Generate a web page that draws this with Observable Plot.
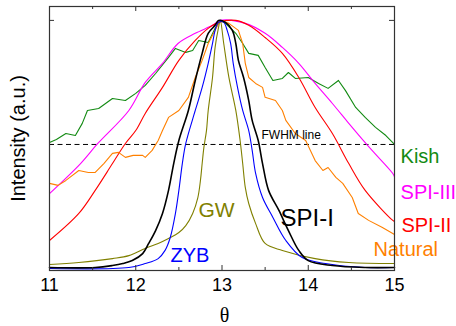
<!DOCTYPE html>
<html>
<head>
<meta charset="utf-8">
<script src="https://cdn.jsdelivr.net/npm/d3@7"></script>
<script src="https://cdn.jsdelivr.net/npm/@observablehq/plot@0.6"></script>
<style>
  html, body { margin: 0; padding: 0; background: white; }
</style>
</head>
<body>
<div id="chart"></div>
<script>
// ---- data: [theta, normalized intensity] ----
const kish = [[11.0,0.508],[11.08,0.520],[11.19,0.544],[11.30,0.536],[11.38,0.585],[11.44,0.637],[11.57,0.645],[11.73,0.685],[11.88,0.677],[12.0,0.706],[12.11,0.738],[12.23,0.786],[12.38,0.851],[12.46,0.887],[12.58,0.871],[12.66,0.879],[12.73,0.919],[12.84,0.911],[12.92,0.968],[12.98,1.0],[13.04,0.988],[13.16,0.948],[13.24,0.907],[13.31,0.867],[13.42,0.859],[13.50,0.810],[13.59,0.758],[13.70,0.766],[13.77,0.790],[13.85,0.766],[14.0,0.770],[14.12,0.746],[14.23,0.726],[14.35,0.758],[14.43,0.718],[14.55,0.649],[14.66,0.609],[14.78,0.569],[14.90,0.536],[15.0,0.50]];
const spi3 = [[11.0,0.302],[11.36,0.423],[11.56,0.504],[11.92,0.637],[12.11,0.75],[12.31,0.827],[12.49,0.907],[12.69,0.948],[12.89,0.98],[12.98,1.0],[13.27,0.988],[13.50,0.948],[13.70,0.891],[13.89,0.827],[14.08,0.746],[14.28,0.665],[14.47,0.585],[14.58,0.540],[14.74,0.476],[14.98,0.383],[15.0,0.370]];
const spi2 = [[11.0,0.113],[11.34,0.222],[11.53,0.315],[11.73,0.423],[11.88,0.504],[12.0,0.556],[12.11,0.625],[12.31,0.730],[12.50,0.839],[12.69,0.919],[12.84,0.968],[12.96,0.992],[13.16,1.0],[13.31,0.980],[13.50,0.931],[13.70,0.867],[13.89,0.770],[14.08,0.649],[14.28,0.544],[14.47,0.423],[14.66,0.315],[14.98,0.194],[15.0,0.19]];
const natural = [[11.0,0.343],[11.10,0.335],[11.19,0.355],[11.34,0.395],[11.45,0.387],[11.53,0.387],[11.63,0.423],[11.73,0.464],[11.80,0.468],[11.88,0.448],[11.97,0.456],[12.08,0.456],[12.11,0.448],[12.19,0.476],[12.26,0.516],[12.31,0.556],[12.38,0.609],[12.50,0.637],[12.61,0.690],[12.69,0.770],[12.77,0.839],[12.84,0.907],[12.92,0.960],[12.98,1.0],[13.08,0.988],[13.19,0.960],[13.24,0.907],[13.27,0.827],[13.31,0.770],[13.39,0.746],[13.47,0.730],[13.50,0.690],[13.62,0.677],[13.70,0.637],[13.74,0.597],[13.85,0.544],[13.97,0.516],[14.08,0.435],[14.17,0.395],[14.23,0.407],[14.32,0.367],[14.40,0.343],[14.51,0.286],[14.58,0.222],[14.70,0.194],[14.86,0.165],[15.0,0.137]];
const gw = [[11.0,0.016],[11.34,0.024],[11.73,0.040],[11.92,0.052],[12.11,0.081],[12.26,0.101],[12.38,0.121],[12.50,0.145],[12.58,0.173],[12.66,0.222],[12.72,0.286],[12.75,0.355],[12.77,0.423],[12.79,0.488],[12.82,0.556],[12.84,0.637],[12.89,0.770],[12.92,0.891],[12.96,0.972],[12.98,1.0],[13.02,0.907],[13.08,0.770],[13.16,0.637],[13.21,0.516],[13.24,0.423],[13.27,0.327],[13.31,0.262],[13.39,0.181],[13.50,0.101],[13.70,0.073],[14.08,0.040],[14.47,0.024],[15.0,0.020]];
const zyb = [[11.0,0.0],[11.92,0.004],[12.11,0.020],[12.26,0.040],[12.34,0.073],[12.40,0.125],[12.46,0.222],[12.50,0.315],[12.54,0.423],[12.58,0.504],[12.69,0.637],[12.77,0.730],[12.84,0.827],[12.89,0.907],[12.92,0.960],[12.96,0.992],[13.02,0.992],[13.06,0.960],[13.10,0.907],[13.13,0.827],[13.18,0.730],[13.24,0.637],[13.31,0.556],[13.35,0.476],[13.39,0.383],[13.47,0.286],[13.59,0.206],[13.74,0.113],[13.93,0.044],[14.20,0.020],[14.66,0.004],[15.0,0.004]];
const spi1 = [[11.0,0.004],[11.53,0.004],[11.73,0.012],[11.85,0.020],[11.96,0.032],[12.08,0.060],[12.15,0.101],[12.23,0.153],[12.31,0.222],[12.38,0.315],[12.44,0.423],[12.50,0.516],[12.61,0.637],[12.69,0.758],[12.77,0.867],[12.84,0.948],[12.92,0.980],[12.96,1.0],[13.04,0.992],[13.12,0.960],[13.16,0.907],[13.19,0.839],[13.25,0.770],[13.31,0.677],[13.35,0.597],[13.42,0.516],[13.47,0.423],[13.54,0.315],[13.66,0.234],[13.77,0.153],[13.89,0.073],[14.0,0.032],[14.28,0.012],[14.66,0.004],[15.0,0.004]];

const seriesNames = ["Kish","SPI-III","SPI-II","Natural","GW","ZYB","SPI-I"];
const seriesColors = ["#128a12","#ff00ff","#ff0000","#ff8000","#808000","#0000ff","#000000"];
const seriesData = [kish, spi3, spi2, natural, gw, zyb, spi1];
const seriesCurve = ["linear","catmull-rom","catmull-rom","linear","catmull-rom","catmull-rom","catmull-rom"];

// label annotations (theta, intensity of baseline)
const labelX = [15.07, 15.07, 15.08, 14.757, 12.728, 12.403, 13.678];
const labelY = [0.427, 0.282, 0.149, 0.052, 0.206, 0.028, 0.173];
const labelSize = [20, 20, 20, 20, 21, 20, 24];

const xTicks = [11, 12, 13, 14, 15];
const xMinorTicks = [11.5, 12.5, 13.5, 14.5];
const fwhmLevel = 0.5;

const W = 456, H = 326, mT = 6, mB = 56, mL = 49, mR = 62;
const fw = W - mL - mR, fh = H - mT - mB;

const lineMarks = seriesData.map((d, i) =>
  Plot.line(d, {x: p => p[0], y: p => p[1], stroke: seriesColors[i], curve: seriesCurve[i],
    strokeWidth: i === 6 ? 1.6 : 1.1})
);

const labels = seriesNames.map((n, i) => ({name: n, x: labelX[i], y: labelY[i], color: seriesColors[i], size: labelSize[i]}));

const chart = Plot.plot({
  width: W, height: H,
  marginTop: mT, marginBottom: mB, marginLeft: mL, marginRight: mR,
  x: {domain: [11, 15], axis: null},
  y: {domain: [-0.008, 1.056], axis: null},
  color: {type: "identity"},
  style: {fontFamily: "'Liberation Sans', Arial, sans-serif", background: "white", color: "black"},
  marks: [
    Plot.ruleY([fwhmLevel], {stroke: "black", strokeWidth: 1, strokeDasharray: "5,3.5"}),
    ...lineMarks,
    Plot.text(["FWHM line"], {x: 13.458, y: 0.520, textAnchor: "start", lineAnchor: "bottom", fontSize: 12, fill: "black"}),
    Plot.text(labels, {x: "x", y: "y", text: "name", fill: "color", fontSize: "size", textAnchor: "start", lineAnchor: "bottom"}),
    Plot.frame({stroke: "#333", strokeWidth: 1.2}),
    Plot.tickX(xTicks, {x: d => d, insetTop: fh - 5, stroke: "#333"}),
    Plot.tickX(xTicks, {x: d => d, insetBottom: fh - 5, stroke: "#333"}),
    Plot.tickX(xMinorTicks, {x: d => d, insetTop: fh - 3, stroke: "#333"}),
    Plot.tickX(xMinorTicks, {x: d => d, insetBottom: fh - 3, stroke: "#333"}),
    Plot.tickY([1], {y: d => d, insetRight: fw - 5, stroke: "#333"}),
    Plot.tickY([1], {y: d => d, insetLeft: fw - 5, stroke: "#333"}),
    Plot.axisX({ticks: xTicks, tickSize: 0, tickPadding: 8, fontSize: 18, label: null, tickFormat: d => String(d)}),
    Plot.text(["θ"], {frameAnchor: "bottom", dx: 2.5, dy: 51, textAnchor: "middle", lineAnchor: "bottom", fontFamily: "'Liberation Serif', 'DejaVu Serif', serif", fontSize: 20, fill: "black"}),
    Plot.text(["Intensity (a.u.)"], {frameAnchor: "left", dx: -31, rotate: -90, textAnchor: "middle", lineAnchor: "middle", fontSize: 20, fill: "black"})
  ]
});
document.getElementById("chart").appendChild(chart);
</script>
</body>
</html>
